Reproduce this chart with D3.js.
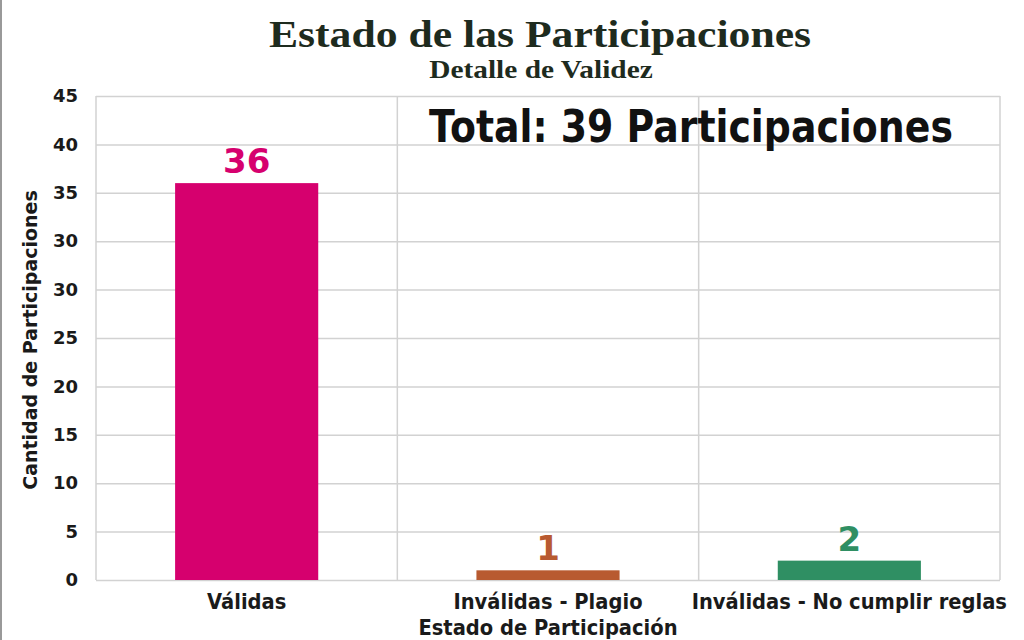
<!DOCTYPE html>
<html>
<head>
<meta charset="utf-8">
<script src="https://cdn.jsdelivr.net/npm/d3@7"></script>
<style>
  body { margin: 0; background: #fff; }
  svg { display: block; }
</style>
</head>
<body>
<svg id="bar-chart"></svg>
<script>
// chart data
let categories = ['Válidas', 'Inválidas - Plagio', 'Inválidas - No cumplir reglas'];
let counts = [36, 1, 2];
let barColors = ['#d6006e', '#b85a30', '#2f8f63'];
// tick labels as printed on the axis (30 appears twice)
let tickLabels = [0, 5, 10, 15, 20, 25, 30, 30, 35, 40, 45];

let titleText = 'Estado de las Participaciones';
let subtitleText = 'Detalle de Validez';
let totalText = 'Total: 39 Participaciones';
let yTitle = 'Cantidad de Participaciones';
let xTitle = 'Estado de Participación';

// configuration of svg/plot area
let config = { 'svg': {}, 'margin': {}, 'plot': {} };
config.svg.width = 1024;
config.svg.height = 640;

config.margin.top = 96;
config.margin.right = 24;
config.margin.bottom = 60;
config.margin.left = 96;

config.plot.width = config.svg.width - config.margin.left - config.margin.right;
config.plot.height = config.svg.height - config.margin.top - config.margin.bottom;

let svg = d3.select('#bar-chart')
  .attr('width', config.svg.width)
  .attr('height', config.svg.height);

let sans = "'DejaVu Sans', Verdana, sans-serif";
let serif = "'Liberation Serif', 'DejaVu Serif', serif";
let narrowScale = 'scale(0.93,1)'; // original labels use a condensed face

// frame line at the left edge
svg.append('line')
  .attr('x1', 1).attr('x2', 1)
  .attr('y1', 0).attr('y2', config.svg.height)
  .attr('stroke', '#999').attr('stroke-width', 2);

let plot = svg.append('g').attr('transform', translate(config.margin.left, config.margin.top));

// tick index -> pixel, and a piecewise value scale built from the printed labels
let idxScale = d3.scaleLinear()
  .domain([0, tickLabels.length - 1])
  .range([config.plot.height, 0]);

let countScale = d3.scaleLinear()
  .domain(tickLabels)
  .range(tickLabels.map((d, i) => idxScale(i)));

let xScale = d3.scaleBand()
  .domain(categories)
  .range([0, config.plot.width]);

let barWidth = xScale.bandwidth() * 0.475;

// horizontal grid
let gridlines = d3.axisLeft(idxScale)
  .tickValues(d3.range(tickLabels.length))
  .tickSize(-config.plot.width)
  .tickFormat('');
let grid = plot.append('g').attr('class', 'grid').call(gridlines);
grid.select('.domain').remove();
grid.selectAll('line').attr('stroke', '#d2d2d2').attr('stroke-width', 1.5);

// vertical separators between categories + borders
let edges = categories.map(c => xScale(c)).concat([config.plot.width]);
plot.selectAll('line.vsep')
  .data(edges)
  .enter().append('line')
  .attr('class', 'vsep')
  .attr('x1', d => d).attr('x2', d => d)
  .attr('y1', 0).attr('y2', config.plot.height)
  .attr('stroke', '#d2d2d2').attr('stroke-width', 1.5);

// y axis labels
let yAxis = d3.axisLeft(idxScale)
  .tickValues(d3.range(tickLabels.length))
  .tickSize(0)
  .tickPadding(18)
  .tickFormat(i => tickLabels[i]);
let yGroup = plot.append('g').call(yAxis);
yGroup.select('.domain').remove();
yGroup.selectAll('text')
  .attr('font-family', sans)
  .attr('font-weight', 'bold')
  .attr('font-size', 18)
  .attr('fill', '#1a1a1a');

// x axis labels
let xAxis = d3.axisBottom(xScale).tickSize(0).tickPadding(14);
let xGroup = plot.append('g')
  .attr('transform', translate(0, config.plot.height))
  .call(xAxis);
xGroup.select('.domain').remove();
xGroup.selectAll('text')
  .attr('font-family', sans)
  .attr('font-weight', 'bold')
  .attr('font-size', 21)
  .attr('fill', '#1a1a1a')
  .attr('transform', narrowScale);

// bars
plot.selectAll('rect.bar')
  .data(counts)
  .enter().append('rect')
  .attr('class', 'bar')
  .attr('x', (d, i) => xScale(categories[i]) + (xScale.bandwidth() - barWidth) / 2)
  .attr('y', d => countScale(d))
  .attr('width', barWidth)
  .attr('height', d => config.plot.height - countScale(d))
  .attr('fill', (d, i) => barColors[i]);

// value labels
plot.selectAll('text.value')
  .data(counts)
  .enter().append('text')
  .attr('class', 'value')
  .attr('x', (d, i) => xScale(categories[i]) + xScale.bandwidth() / 2)
  .attr('y', d => countScale(d) - 10)
  .attr('text-anchor', 'middle')
  .attr('font-family', sans)
  .attr('font-weight', 'bold')
  .attr('font-size', 34)
  .attr('fill', (d, i) => barColors[i])
  .text(d => d);

// total annotation
plot.append('text')
  .attr('transform', translate(595, 46) + ' scale(0.86,1)')
  .attr('text-anchor', 'middle')
  .attr('font-family', sans)
  .attr('font-weight', 'bold')
  .attr('font-size', 44)
  .attr('fill', '#111')
  .text(totalText);

// titles
svg.append('text')
  .attr('transform', translate(540, 47) + ' scale(1.12,1)')
  .attr('text-anchor', 'middle')
  .attr('font-family', serif)
  .attr('font-weight', 'bold')
  .attr('font-size', 39)
  .attr('fill', '#1e2b1e')
  .text(titleText);

svg.append('text')
  .attr('transform', translate(541, 78) + ' scale(1.13,1)')
  .attr('text-anchor', 'middle')
  .attr('font-family', serif)
  .attr('font-weight', 'bold')
  .attr('font-size', 26)
  .attr('fill', '#1e2b1e')
  .text(subtitleText);

// axis titles
svg.append('text')
  .attr('transform', translate(37, config.margin.top + config.plot.height / 2 + 2) + ' rotate(-90)')
  .attr('text-anchor', 'middle')
  .attr('font-family', sans)
  .attr('font-weight', 'bold')
  .attr('font-size', 19)
  .attr('fill', '#1a1a1a')
  .text(yTitle);

svg.append('text')
  .attr('transform', translate(config.margin.left + xScale(categories[1]) + xScale.bandwidth() / 2, 635) + ' ' + narrowScale)
  .attr('text-anchor', 'middle')
  .attr('font-family', sans)
  .attr('font-weight', 'bold')
  .attr('font-size', 21)
  .attr('fill', '#1a1a1a')
  .text(xTitle);

// helper method to make translating easier
function translate(x, y) {
  return 'translate(' + x + ',' + y + ')';
}
</script>
</body>
</html>
